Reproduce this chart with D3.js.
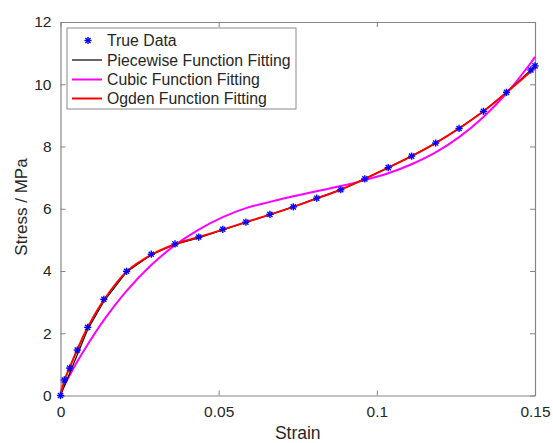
<!DOCTYPE html>
<html><head><meta charset="utf-8">
<script src="https://cdn.jsdelivr.net/npm/d3@7"></script>
<style>body{margin:0;background:#fff}svg{display:block}text{font-family:"Liberation Sans",Arial,Helvetica,sans-serif;fill:#262626}</style>
</head><body><svg id="c" width="553" height="443"></svg>
<script>
const strain = [0, 0.0012, 0.0029, 0.0053, 0.0086, 0.0137, 0.0209, 0.0287, 0.0362, 0.0437, 0.0513, 0.0586, 0.0662, 0.0736, 0.081, 0.0886, 0.0962, 0.1036, 0.111, 0.1186, 0.126, 0.1337, 0.141, 0.1487, 0.15];
const trueStress = [0, 0.50, 0.88, 1.46, 2.19, 3.09, 3.99, 4.54, 4.87, 5.09, 5.34, 5.57, 5.82, 6.06, 6.34, 6.61, 6.96, 7.32, 7.69, 8.11, 8.58, 9.13, 9.74, 10.46, 10.59];
const piecewiseStrain = [0, 0.0086, 0.0137, 0.0209, 0.0287, 0.0362, 0.0437, 0.0513, 0.0586, 0.0662, 0.0736, 0.081, 0.0886, 0.0962, 0.1036, 0.111, 0.1186, 0.126, 0.1337, 0.141, 0.1487, 0.15];
const piecewiseStress = [0, 2.12, 3.02, 3.97, 4.52, 4.85, 5.06, 5.32, 5.56, 5.81, 6.06, 6.34, 6.61, 6.96, 7.32, 7.69, 8.11, 8.58, 9.13, 9.74, 10.46, 10.59];
const cubicStress = [0.10, 0.33, 0.65, 1.09, 1.64, 2.42, 3.36, 4.19, 4.83, 5.33, 5.73, 6.02, 6.22, 6.40, 6.56, 6.73, 6.92, 7.14, 7.43, 7.81, 8.30, 8.95, 9.71, 10.69, 10.88];
const ogdenStress = [0, 0.48, 0.90, 1.47, 2.19, 3.07, 3.98, 4.52, 4.86, 5.09, 5.33, 5.57, 5.81, 6.06, 6.33, 6.61, 6.96, 7.32, 7.69, 8.11, 8.58, 9.13, 9.74, 10.42, 10.55];
const xTicks = [0, 0.05, 0.1, 0.15];
const xTickLabels = ["0", "0.05", "0.1", "0.15"];
const yTicks = [0, 2, 4, 6, 8, 10, 12];
const legendLabels = ["True Data", "Piecewise Function Fitting", "Cubic Function Fitting", "Ogden Function Fitting"];

const svg = d3.select("#c");
const L = 60.5, R = 535, T = 22, B = 395.5;
const x = d3.scaleLinear().domain([0, 0.15]).range([L, R]);
const y = d3.scaleLinear().domain([0, 12]).range([B, T]);
const axisCol = "#858585";

const g = svg.append("g");
const xb = d3.axisBottom(x).tickValues(xTicks).tickFormat((d,i)=>xTickLabels[i]).tickSizeInner(-5).tickSizeOuter(0).tickPadding(10);
const xt = d3.axisTop(x).tickValues(xTicks).tickFormat("").tickSizeInner(-5).tickSizeOuter(0);
const yl = d3.axisLeft(y).tickValues(yTicks).tickSizeInner(-5).tickSizeOuter(0).tickPadding(9);
const yr = d3.axisRight(y).tickValues(yTicks).tickFormat("").tickSizeInner(-5).tickSizeOuter(0);
function style(sel){sel.selectAll("path").attr("stroke",axisCol).attr("stroke-width",1.2);sel.selectAll("line").attr("stroke",axisCol);sel.selectAll("text").attr("fill","#262626").style("font-size","15.5px").style("font-family","'Liberation Sans',Arial,sans-serif");}
g.append("g").attr("transform",`translate(0,${B})`).call(xb).call(style);
g.append("g").attr("transform",`translate(0,${T})`).call(xt).call(style);
g.append("g").attr("transform",`translate(${L},0)`).call(yl).call(style);
g.append("g").attr("transform",`translate(${R},0)`).call(yr).call(style);

svg.append("path").attr("d", d3.line().x((d,i)=>x(strain[i])).y(d=>y(d)).curve(d3.curveCatmullRom)(cubicStress)).attr("fill","none").attr("stroke","#ff00ff").attr("stroke-width",2);
svg.append("path").attr("d", d3.line().x((d,i)=>x(piecewiseStrain[i])).y(d=>y(d))(piecewiseStress)).attr("fill","none").attr("stroke","#000").attr("stroke-width",1.2);
svg.append("path").attr("d", d3.line().x((d,i)=>x(strain[i])).y(d=>y(d)).curve(d3.curveCatmullRom)(ogdenStress)).attr("fill","none").attr("stroke","#ff0000").attr("stroke-width",2);

function star(sel, r){
  [[r,0],[0,r],[r*0.707,r*0.707],[r*0.707,-r*0.707]].forEach(([dx,dy])=>{
    sel.append("line").attr("x1",-dx).attr("y1",-dy).attr("x2",dx).attr("y2",dy).attr("stroke","#0000ff").attr("stroke-width",1.4);
  });
}
const pts = svg.append("g");
trueStress.forEach((v,i)=>{ const s = pts.append("g").attr("transform",`translate(${x(strain[i])},${y(v)})`); star(s,3.6); });

const lg = svg.append("g");
lg.append("rect").attr("x",67).attr("y",28).attr("width",229).attr("height",81).attr("fill","#fff").attr("stroke","#8a8a8a").attr("stroke-width",1);
const ly = [40.5, 60, 79.5, 98.5];
legendLabels.forEach((t,i)=>{
  lg.append("text").attr("x",107).attr("y",ly[i]).attr("dy","0.35em").style("font-size","15.8px").text(t);
});
const sm = lg.append("g").attr("transform",`translate(88,${ly[0]})`); star(sm,3.6);
[["#000",1.2],["#ff00ff",2],["#ff0000",2]].forEach(([c,w],i)=>{
  lg.append("line").attr("x1",72).attr("x2",102).attr("y1",ly[i+1]).attr("y2",ly[i+1]).attr("stroke",c).attr("stroke-width",w);
});

svg.append("text").attr("x",(L+R)/2).attr("y",433).attr("text-anchor","middle").attr("dy","0.35em").style("font-size","17.5px").text("Strain");
svg.append("text").attr("transform",`translate(21,207) rotate(-90)`).attr("text-anchor","middle").attr("dy","0.35em").style("font-size","17px").text("Stress / MPa");
</script></body></html>
